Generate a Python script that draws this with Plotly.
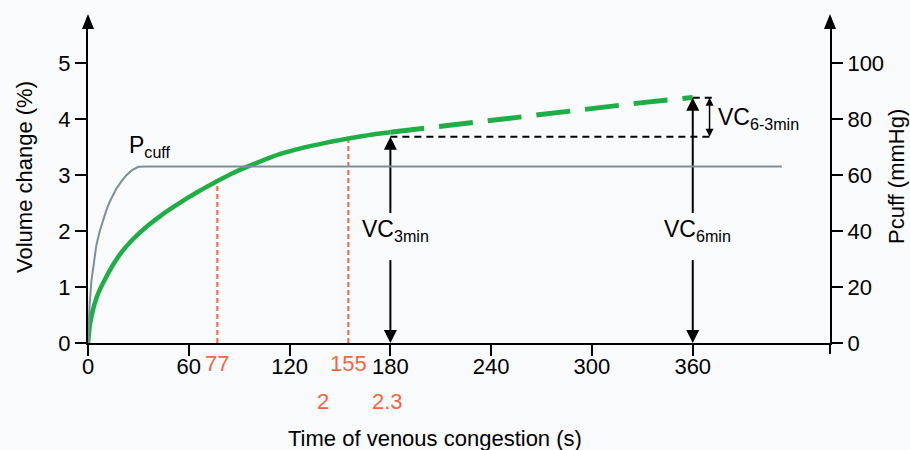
import plotly.graph_objects as go

# ---------------- data ----------------
x_ticks = [0, 60, 120, 180, 240, 300, 360]
y_left_ticks = [0, 1, 2, 3, 4, 5]
y_right_ticks = [0, 20, 40, 60, 80, 100]

t_solid = [0, 1, 2, 3, 5, 7, 10, 15, 20, 27, 35, 45, 53, 61, 69, 77, 86, 96, 105, 114, 126, 138, 146, 155, 167, 180]
vc_solid = [0, 0.3, 0.46, 0.6, 0.8, 0.95, 1.13, 1.4, 1.62, 1.86, 2.08, 2.31, 2.47, 2.62, 2.76, 2.89, 3.03, 3.16, 3.27, 3.37, 3.47, 3.55, 3.6, 3.65, 3.71, 3.76]

t_dash = [180, 210, 240, 270, 300, 330, 360]
vc_dash = [3.76, 3.87, 3.98, 4.09, 4.19, 4.29, 4.38]

t_cuff = [0, 0.5, 1, 2, 3, 4, 5, 7, 9, 11, 13, 15, 17, 20, 23, 26, 28, 30, 35, 413]
p_cuff = [0, 8, 14, 22, 27, 31, 35, 40, 44, 47.5, 50.5, 53, 55.2, 57.8, 60, 61.6, 62.4, 62.9, 63, 63]

marker_times = [77, 155]
marker_tops = [2.89, 3.65]
marker_labels = ["77", "155"]

minute_label_x = [140, 178]
minute_labels = ["2", "2.3"]

vc3_time, vc3_level = 180, 3.68
vc6_time, vc6_level = 360, 4.375
vc_diff_time = 370
vc_line_end = 372

# ---------------- geometry ----------------
W, H = 910, 450
L, R, T, B = 88, 80, 18, 107
PW, PH = W - L - R, H - T - B
X_MAX = 441.7
Y_MAX = 5.8
Y2_MAX = 116

def px_x(p):  # pixel -> paper x
    return (p - L) / PW

def px_y(p):  # pixel -> paper y
    return (H - B - p) / PH

GREEN = "#1fae46"
GRAY = "#7b8f9b"
RED = "#f2663f"
FONT = "Liberation Sans, Arial, Helvetica, sans-serif"

fig = go.Figure()

def add_line(x, y, **line):
    fig.add_trace(go.Scatter(x=x, y=y, mode="lines", line=line,
                             hoverinfo="skip", showlegend=False))

fig.add_trace(go.Scatter(x=t_cuff, y=p_cuff, yaxis="y2", mode="lines",
                         line=dict(color=GRAY, width=2),
                         hoverinfo="skip", showlegend=False))

for t, top in zip(marker_times, marker_tops):
    add_line([t, t], [0, top], color=RED, width=2, dash="5px,3px")

add_line([vc3_time, vc_line_end], [vc3_level, vc3_level], color="black", width=2, dash="7px,5px")
add_line([vc6_time, vc_line_end], [vc6_level, vc6_level], color="black", width=2, dash="7px,5px")

fig.add_trace(go.Scatter(x=t_solid, y=vc_solid, mode="lines",
                         line=dict(color=GREEN, width=4.5, shape="spline", smoothing=0.5),
                         hoverinfo="skip", showlegend=False))
fig.add_trace(go.Scatter(x=t_dash, y=vc_dash, mode="lines",
                         line=dict(color=GREEN, width=5, dash="34px,15px"),
                         hoverinfo="skip", showlegend=False))

# VC arrows (line segments with arrowhead markers whose tip sits on the point)
GAP_TOP, GAP_BOTTOM = 2.32, 1.48
for t, lvl in [(vc3_time, vc3_level), (vc6_time, vc6_level)]:
    add_line([t, t], [GAP_TOP, lvl - 0.05], color="black", width=2)
    add_line([t, t], [0.05, GAP_BOTTOM], color="black", width=2)
    fig.add_trace(go.Scatter(x=[t], y=[lvl], mode="markers", hoverinfo="skip", showlegend=False,
                             marker=dict(symbol="arrow-up", size=13, color="black",
                                         line=dict(width=0))))
    fig.add_trace(go.Scatter(x=[t], y=[0], mode="markers", hoverinfo="skip", showlegend=False,
                             marker=dict(symbol="arrow-down", size=13, color="black",
                                         line=dict(width=0))))
add_line([vc_diff_time, vc_diff_time], [vc3_level + 0.05, vc6_level - 0.05], color="black", width=1.5)
fig.add_trace(go.Scatter(x=[vc_diff_time], y=[vc6_level], mode="markers", hoverinfo="skip",
                         showlegend=False,
                         marker=dict(symbol="arrow-up", size=8, color="black", line=dict(width=0))))
fig.add_trace(go.Scatter(x=[vc_diff_time], y=[vc3_level], mode="markers", hoverinfo="skip",
                         showlegend=False,
                         marker=dict(symbol="arrow-down", size=8, color="black", line=dict(width=0))))

ann = []
label_font = dict(family=FONT, size=23, color="black")
ann.append(dict(x=vc3_time + 3, y=2.0, xref="x", yref="y", text="VC<sub>3min</sub>",
                showarrow=False, xanchor="center", yanchor="middle", font=label_font))
ann.append(dict(x=vc6_time + 3, y=2.0, xref="x", yref="y", text="VC<sub>6min</sub>",
                showarrow=False, xanchor="center", yanchor="middle", font=label_font))
ann.append(dict(x=vc_diff_time + 4, y=4.0, xref="x", yref="y", text="VC<sub>6-3min</sub>",
                showarrow=False, xanchor="left", yanchor="middle", font=label_font))
ann.append(dict(x=23, y=3.5, xref="x", yref="y", text="P<sub>cuff</sub>",
                showarrow=False, xanchor="left", yanchor="middle", font=label_font))

red_font = dict(family=FONT, size=22, color=RED)
for t, lab in zip(marker_times, marker_labels):
    ann.append(dict(x=t, y=px_y(364), xref="x", yref="paper", text=lab, showarrow=False,
                    xanchor="center", yanchor="middle", font=red_font))
for t, lab in zip(minute_label_x, minute_labels):
    ann.append(dict(x=t, y=px_y(402), xref="x", yref="paper", text=lab, showarrow=False,
                    xanchor="center", yanchor="middle", font=red_font))

title_font = dict(family=FONT, size=22, color="black")
ann.append(dict(x=px_x(435), y=px_y(438), xref="paper", yref="paper",
                text="Time of venous congestion (s)", showarrow=False,
                xanchor="center", yanchor="middle", font=title_font))
ann.append(dict(x=px_x(24), y=px_y(177), xref="paper", yref="paper",
                text="Volume change (%)", showarrow=False, textangle=-90,
                xanchor="center", yanchor="middle", font=title_font))
ann.append(dict(x=px_x(896), y=px_y(177), xref="paper", yref="paper",
                text="Pcuff (mmHg)", showarrow=False, textangle=-90,
                xanchor="center", yanchor="middle", font=title_font))

shapes = []
hw = 6 / PW
for xp in (0, 1):
    shapes.append(dict(type="path", xref="paper", yref="paper",
                       path=f"M {xp - hw} {px_y(29)} L {xp + hw} {px_y(29)} L {xp} {px_y(14)} Z",
                       fillcolor="black", line=dict(color="black", width=0)))
shapes.append(dict(type="line", xref="paper", yref="paper", x0=1, x1=1,
                   y0=0, y1=px_y(354), line=dict(color="black", width=2)))

axis_font = dict(family=FONT, size=22, color="black")
fig.update_layout(
    width=W, height=H,
    margin=dict(l=L, r=R, t=T, b=B, pad=0),
    paper_bgcolor="#f9fafc", plot_bgcolor="#f9fafc",
    showlegend=False,
    xaxis=dict(range=[0, X_MAX], tickvals=x_ticks, ticks="outside", ticklen=11, tickwidth=2,
               tickcolor="black", showline=True, linecolor="black", linewidth=2,
               showgrid=False, zeroline=False, tickfont=axis_font, ticklabelstandoff=-8),
    yaxis=dict(range=[0, Y_MAX], tickvals=y_left_ticks, ticks="outside", ticklen=11, tickwidth=2,
               tickcolor="black", showline=True, linecolor="black", linewidth=2,
               showgrid=False, zeroline=False, tickfont=axis_font),
    yaxis2=dict(range=[0, Y2_MAX], tickvals=y_right_ticks, overlaying="y", side="right",
                anchor="x", ticks="outside", ticklen=11, tickwidth=2, tickcolor="black",
                showline=True, linecolor="black", linewidth=2, showgrid=False, zeroline=False,
                tickfont=axis_font),
    annotations=ann, shapes=shapes,
)

fig.write_html("out.html", config={"displayModeBar": False},
               post_script="document.body.style.margin='0';document.body.style.background='#f9fafc';")
